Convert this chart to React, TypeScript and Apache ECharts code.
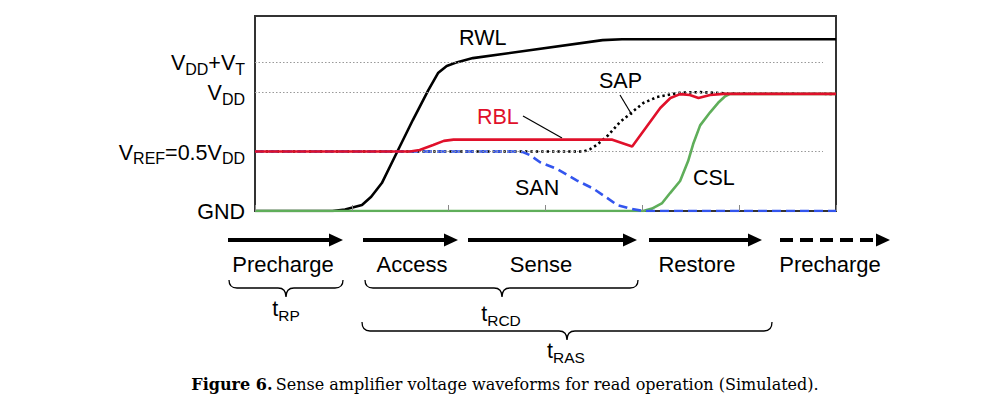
import React, { useEffect, useRef } from "react";
import * as echarts from "echarts";

// ---- data (time in arbitrary units, 0..60; voltage in units of VDD) ----
const xTicks = [0, 10, 20, 30, 40, 50, 60];
const yTickValues = [0, 0.5, 1, 1.25];
const yTickLabels = [
  "{v|GND}",
  "{v|V}{s|REF}{v|=0.5V}{s|DD}",
  "{v|V}{s|DD}",
  "{v|V}{s|DD}{v|+V}{s|T}",
];
const gridLevels = [0.5, 1, 1.25];
const gridEndX = 58.66;

const rwl: number[][] = [
  [0, 0], [8.0, 0], [9.3, 0.012], [11.05, 0.05], [12.0, 0.12], [13.1, 0.235],
  [14.7, 0.5], [16.3, 0.765], [17.9, 1.017], [18.9, 1.16], [19.8, 1.22],
  [20.9, 1.252], [22.5, 1.286], [35.9, 1.437], [37.9, 1.445], [60, 1.445],
];
const rbl: number[][] = [
  [0, 0.5], [16.0, 0.5], [17.0, 0.513], [18.4, 0.555], [19.5, 0.59], [20.5, 0.6],
  [36.9, 0.6], [38.95, 0.542], [41.85, 0.866], [42.9, 0.95], [43.9, 0.983],
  [44.9, 0.975], [45.8, 0.95], [47.0, 0.975], [48.4, 0.985], [60, 0.985],
];
const sap: number[][] = [
  [0, 0.5], [33.9, 0.5], [34.6, 0.52], [35.3, 0.555], [36.5, 0.639], [37.7, 0.748],
  [38.95, 0.832], [40.1, 0.908], [41.5, 0.958], [42.9, 0.98], [43.9, 0.995],
  [46.0, 1.0], [48.4, 0.99], [60, 0.985],
];
const san: number[][] = [
  [0, 0.5], [27.0, 0.5], [27.6, 0.497], [28.4, 0.47], [29.44, 0.41], [31.2, 0.353],
  [33.26, 0.256], [34.9, 0.19], [36.36, 0.11], [37.4, 0.05], [38.74, 0.02],
  [40.08, 0], [60, 0],
];
const csl: number[][] = [
  [0, 0], [40.08, 0], [41.0, 0.02], [42.05, 0.067], [42.87, 0.151], [43.9, 0.252],
  [44.73, 0.42], [45.25, 0.563], [45.97, 0.72], [47.0, 0.83], [47.83, 0.91],
  [48.55, 0.965], [49.07, 0.985], [60, 0.985],
];

const phaseLabels = ["Precharge", "Access", "Sense", "Restore", "Precharge"];
const timingLabels = ["RP", "RCD", "RAS"];
const caption = "Sense amplifier voltage waveforms for read operation (Simulated).";

const FONT = "Liberation Sans, Arial, sans-serif";
const SERIF = "DejaVu Serif, Liberation Serif, serif";

function bracePath(x1: number, x2: number, xm: number, yt: number, yl: number, yb: number, r = 8) {
  return `M${x1} ${yt} Q${x1} ${yl} ${x1 + r} ${yl} L${xm - r} ${yl} Q${xm} ${yl} ${xm} ${yb} Q${xm} ${yl} ${xm + r} ${yl} L${x2 - r} ${yl} Q${x2} ${yl} ${x2} ${yt}`;
}

echarts.graphic.registerShape("braceRP", echarts.graphic.extendPath(bracePath(229, 343, 286, 280, 288, 297), {}) as any);
echarts.graphic.registerShape("braceRCD", echarts.graphic.extendPath(bracePath(365, 638, 502, 280, 288, 297), {}) as any);
echarts.graphic.registerShape("braceRAS", echarts.graphic.extendPath(bracePath(362, 772, 567, 322, 331, 340), {}) as any);

function arrow(xs: number, xe: number, y: number, dashed = false): any[] {
  return [
    {
      type: "line",
      shape: { x1: xs, y1: y, x2: xe - 10, y2: y },
      style: { stroke: "#000", lineWidth: 4, lineDash: dashed ? [13, 7] : null },
    },
    {
      type: "polygon",
      shape: { points: [[xe - 14, y - 6.5], [xe, y], [xe - 14, y + 6.5]] },
      style: { fill: "#000" },
    },
  ];
}

function txt(text: string, x: number, y: number, color = "#000", size = 21.5, align = "left"): any {
  return {
    type: "text",
    x,
    y,
    style: { text, fill: color, font: `${size}px ${FONT}`, textAlign: align, textVerticalAlign: "middle" },
  };
}

function subText(main: string, sub: string, x: number, y: number): any {
  return {
    type: "text",
    x,
    y,
    style: {
      text: `{m|${main}}{s|${sub}}`,
      textAlign: "center",
      textVerticalAlign: "middle",
      rich: {
        m: { fontSize: 21.5, fontFamily: FONT, fill: "#000", color: "#000" } as any,
        s: { fontSize: 15.5, fontFamily: FONT, fill: "#000", color: "#000", padding: [13, 0, 0, 0] } as any,
      },
    },
  };
}

export default function App() {
  const ref = useRef<HTMLDivElement>(null);
  useEffect(() => {
    if (!ref.current) return;
    const chart = echarts.init(ref.current, null, { renderer: "svg" });
    const lineBase = { type: "line", showSymbol: false, symbol: "none", smooth: false, silent: true };
    const option: any = {
      animation: false,
      backgroundColor: "#fff",
      grid: { left: 255, top: 16, width: 581, height: 195, show: true, borderColor: "#333", borderWidth: 2, backgroundColor: "transparent" },
      xAxis: {
        type: "value",
        min: xTicks[0],
        max: xTicks[xTicks.length - 1],
        interval: 10,
        axisLine: { show: false },
        axisTick: { show: true, inside: true, length: 6, lineStyle: { color: "#888", width: 1 } },
        axisLabel: { show: false },
        splitLine: { show: false },
        z: 10,
      },
      yAxis: {
        type: "value",
        min: 0,
        max: 1.64,
        interval: 0.25,
        axisLine: { show: false },
        axisTick: { show: false },
        splitLine: { show: false },
        axisLabel: {
          margin: 10,
          showMaxLabel: false,
          formatter: (val: number) => {
            const i = yTickValues.findIndex((t) => Math.abs(t - val) < 1e-6);
            return i >= 0 ? yTickLabels[i] : "";
          },
          rich: {
            v: { fontSize: 21.5, fontFamily: FONT, color: "#000", padding: [2, 0, 0, 0] },
            s: { fontSize: 16, fontFamily: FONT, color: "#000", padding: [14, 0, 0, 0] },
          },
        },
      },
      series: [
        {
          ...lineBase,
          name: "SAP",
          data: sap,
          z: 1,
          lineStyle: { color: "#000", width: 2.6, type: [2.4, 3] },
          markLine: {
            silent: true,
            symbol: "none",
            label: { show: false },
            lineStyle: { color: "#999", width: 1, type: [1.5, 2] },
            data: gridLevels.map((g) => [{ coord: [0, g] }, { coord: [gridEndX, g] }]),
          },
        },
        { ...lineBase, name: "RWL", data: rwl, z: 2, lineStyle: { color: "#000", width: 2.6 } },
        { ...lineBase, name: "CSL", data: csl, z: 3, lineStyle: { color: "#5fae5a", width: 2.6 } },
        { ...lineBase, name: "SAN", data: san, z: 4, lineStyle: { color: "#3355ee", width: 2.6, type: [9, 5] } },
        { ...lineBase, name: "RBL", data: rbl, z: 5, lineStyle: { color: "#e0102a", width: 2.6 } },
      ],
      graphic: [
        txt("RWL", 459, 38),
        txt("SAP", 599, 81),
        txt("RBL", 477, 117, "#e0102a"),
        txt("SAN", 515, 188),
        txt("CSL", 693, 178),
        { type: "line", shape: { x1: 523, y1: 116, x2: 562, y2: 138 }, style: { stroke: "#000", lineWidth: 1.2 } },
        { type: "line", shape: { x1: 620, y1: 95, x2: 632, y2: 115 }, style: { stroke: "#000", lineWidth: 1.2 } },
        ...arrow(228, 343, 240),
        ...arrow(363, 458, 240),
        ...arrow(468, 637, 240),
        ...arrow(649, 762, 240),
        ...arrow(780, 890, 240, true),
        txt(phaseLabels[0], 283, 264, "#000", 22, "center"),
        txt(phaseLabels[1], 412, 264, "#000", 22, "center"),
        txt(phaseLabels[2], 541, 264, "#000", 22, "center"),
        txt(phaseLabels[3], 697, 264, "#000", 22, "center"),
        txt(phaseLabels[4], 830, 264, "#000", 22, "center"),
        { type: "braceRP", x: 0, y: 0, style: { fill: "none", stroke: "#000", lineWidth: 1.3 } },
        { type: "braceRCD", x: 0, y: 0, style: { fill: "none", stroke: "#000", lineWidth: 1.3 } },
        { type: "braceRAS", x: 0, y: 0, style: { fill: "none", stroke: "#000", lineWidth: 1.3 } },
        subText("t", timingLabels[0], 286, 309),
        subText("t", timingLabels[1], 501, 314),
        subText("t", timingLabels[2], 566, 351),
        {
          type: "text",
          x: 505,
          y: 384,
          style: {
            text: `{b|Figure 6.} {r|${caption}}`,
            textAlign: "center",
            textVerticalAlign: "middle",
            rich: {
              b: { fontSize: 16, fontWeight: "bold", fontFamily: SERIF, fill: "#000", color: "#000" } as any,
              r: { fontSize: 16, fontFamily: SERIF, fill: "#000", color: "#000" } as any,
            },
          },
        },
      ],
    };
    chart.setOption(option);
    return () => chart.dispose();
  }, []);
  return (
    <div
      ref={ref}
      style={{ position: "absolute", left: 0, top: 0, width: 1005, height: 396, background: "#fff" }}
    />
  );
}
